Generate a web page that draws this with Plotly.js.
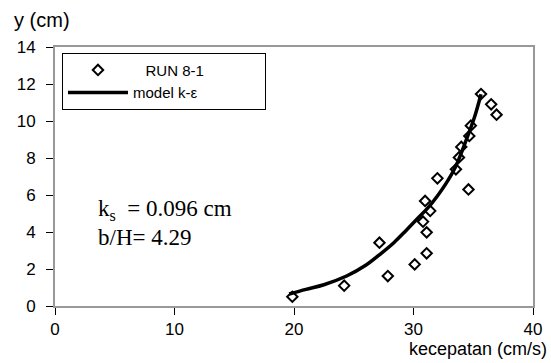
<!DOCTYPE html>
<html>
<head>
<meta charset="utf-8">
<script src="https://cdn.plot.ly/plotly-3.0.1.min.js"></script>
<style>html,body{margin:0;padding:0;background:#fff;}#chart{width:551px;height:363px;}</style>
</head>
<body>
<div id="chart"></div>
<script>
// Measured data (RUN 8-1)
const obsVelocity = [19.86, 24.2, 27.85, 30.1, 31.1, 27.15, 31.1, 30.8, 31.4, 30.97, 34.6, 32.0, 33.55, 33.8, 34.0, 34.67, 34.8, 36.95, 36.5, 35.65];
const obsDepth    = [0.5, 1.1, 1.62, 2.25, 2.85, 3.42, 3.98, 4.56, 5.14, 5.68, 6.3, 6.9, 7.39, 8.03, 8.6, 9.19, 9.75, 10.34, 10.9, 11.46];
// Model k-epsilon profile
const modelVelocity = [19.6, 21.0, 22.5, 24.4, 26.0, 27.3, 28.4, 29.4, 30.3, 31.2, 32.0, 32.7, 33.5, 34.4, 35.1, 35.65];
const modelDepth    = [0.65, 0.9, 1.15, 1.62, 2.2, 2.85, 3.45, 4.1, 4.7, 5.3, 5.95, 6.6, 7.5, 8.95, 10.2, 11.45];
const xTicks = [0, 10, 20, 30, 40];
const yTicks = [0, 2, 4, 6, 8, 10, 12, 14];
const seriesNames = ['RUN 8-1', 'model k-\u03b5'];

const NB = '\u00a0';
const traces = [
  {x: obsVelocity, y: obsDepth, mode: 'markers', type: 'scatter', name: NB + NB + NB + seriesNames[0],
   marker: {symbol: 'diamond-open', size: 8, color: '#000', line: {width: 2, color: '#000'}}},
  {x: modelVelocity, y: modelDepth, mode: 'lines', type: 'scatter', name: seriesNames[1] + NB.repeat(15),
   line: {color: '#000', width: 3.5, shape: 'spline'}}
];

const sans = 'Arial, "Liberation Sans", sans-serif';
const serif = '"Liberation Serif", "Times New Roman", serif';
const layout = {
  width: 551, height: 363,
  margin: {l: 55, r: 18, t: 47, b: 57},
  paper_bgcolor: '#fff', plot_bgcolor: '#fff',
  font: {family: sans, size: 17, color: '#000'},
  showlegend: true,
  legend: {x: 0.0146, y: 0.978, xanchor: 'left', yanchor: 'top',
           bordercolor: '#000', borderwidth: 1, bgcolor: '#fff', itemwidth: 60,
           font: {family: sans, size: 15, color: '#000'}, tracegroupgap: 0},
  xaxis: {range: [0, 40], tickvals: xTicks, ticktext: xTicks.map(String),
          showgrid: false, zeroline: false, showline: true, mirror: true,
          linecolor: '#999', linewidth: 2, ticks: 'outside', ticklen: 7, tickcolor: '#000', tickwidth: 1,
          tickfont: {family: sans, size: 17, color: '#000'}},
  yaxis: {range: [0, 14], tickvals: yTicks, ticktext: yTicks.map(String),
          showgrid: false, zeroline: false, showline: true, mirror: true,
          linecolor: '#999', linewidth: 2, ticks: 'outside', ticklen: 7, tickcolor: '#000', tickwidth: 1,
          tickfont: {family: sans, size: 17, color: '#000'}, ticklabelstandoff: 7},
  annotations: [
    {xref: 'paper', yref: 'paper', x: (12 - 55) / 478, y: (306 - 20) / 259, xanchor: 'left', yanchor: 'middle',
     text: 'y (cm)', showarrow: false, font: {family: sans, size: 20, color: '#000'}},
    {xref: 'paper', yref: 'paper', x: (549 - 55) / 478, y: (306 - 349) / 259, xanchor: 'right', yanchor: 'middle',
     text: 'kecepatan (cm/s)', showarrow: false, font: {family: sans, size: 18, color: '#000'}},
    {xref: 'x', yref: 'y', x: 3.4, y: 5.2, xanchor: 'left', yanchor: 'middle',
     text: 'k<sub>s</sub>  = 0.096 cm', showarrow: false,
     font: {family: serif, size: 23, color: '#000'}},
    {xref: 'x', yref: 'y', x: 3.4, y: 3.7, xanchor: 'left', yanchor: 'middle',
     text: 'b/H= 4.29', showarrow: false,
     font: {family: serif, size: 23, color: '#000'}}
  ]
};

Plotly.newPlot('chart', traces, layout, {displayModeBar: false, staticPlot: true});
</script>
</body>
</html>
